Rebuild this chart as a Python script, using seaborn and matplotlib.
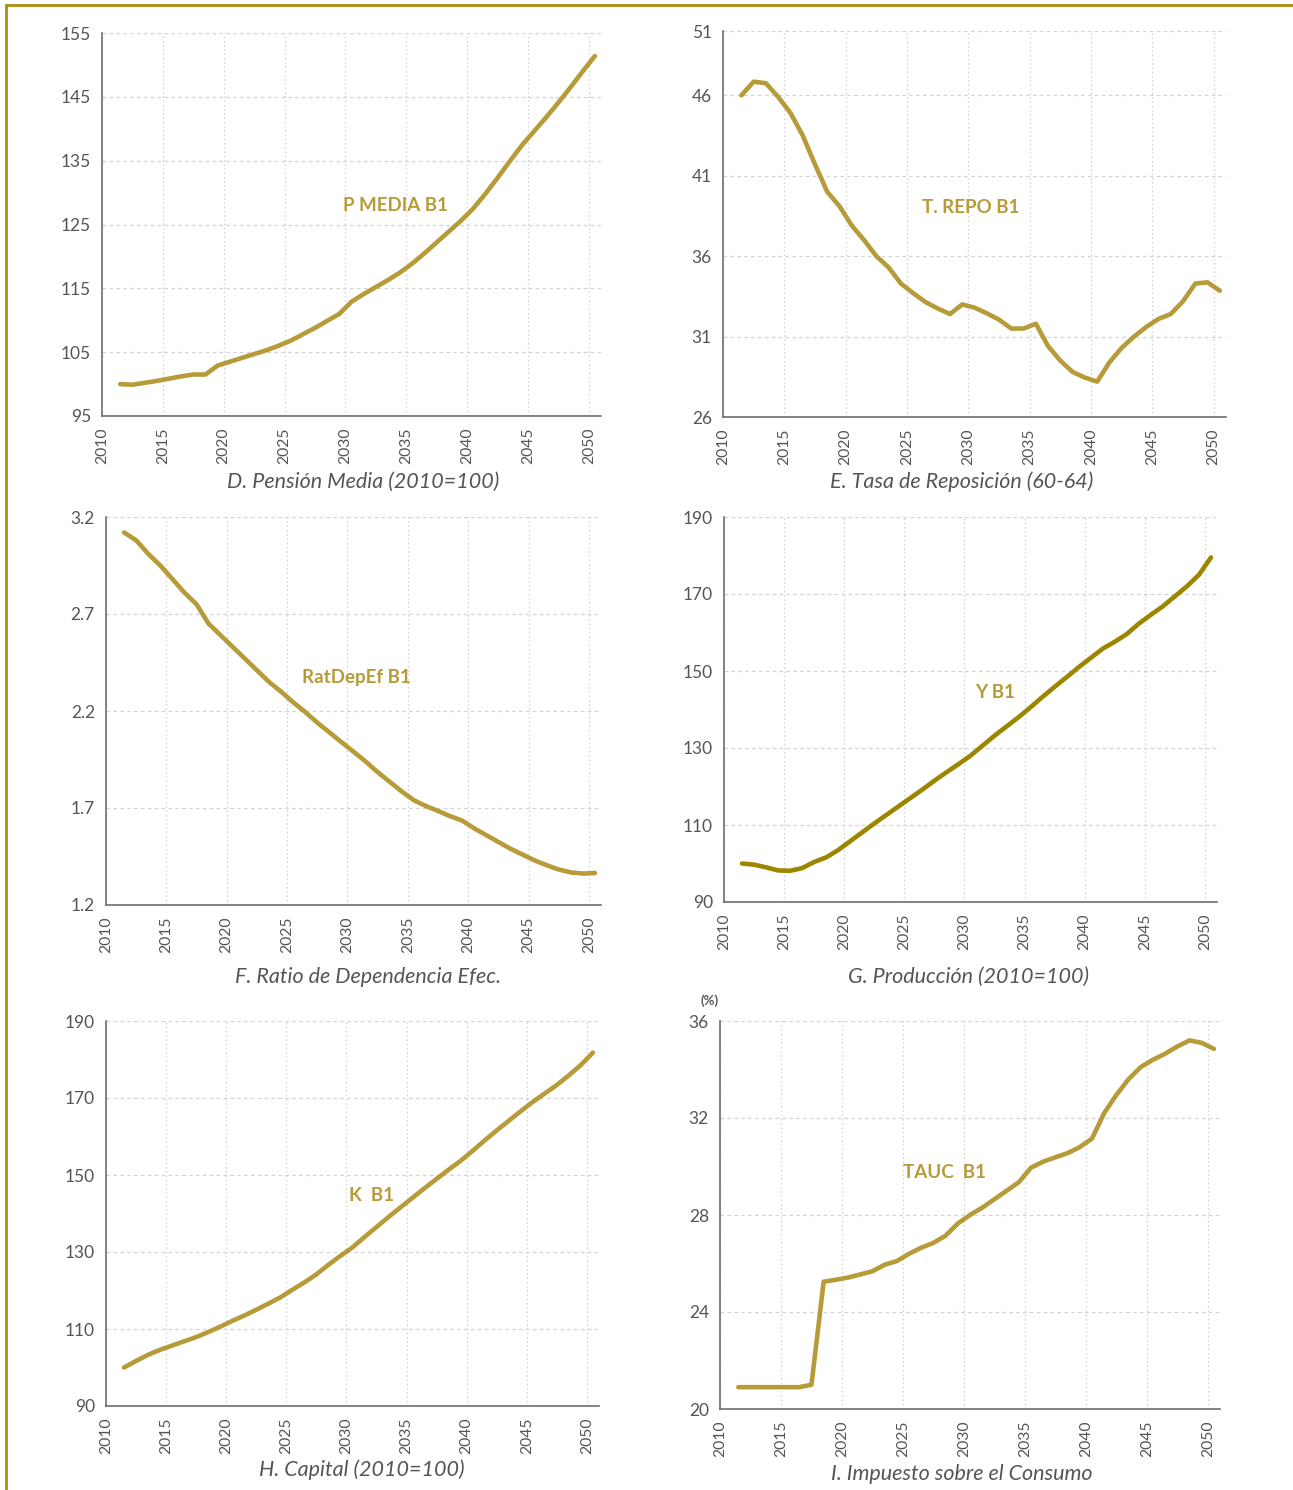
import matplotlib
matplotlib.use("Agg")
import matplotlib.pyplot as plt
import seaborn as sns
from matplotlib.lines import Line2D

# Datos anuales 2011-2050
anios = list(range(2011, 2051))

pension_media = [100.0, 99.9, 100.2, 100.5, 100.85, 101.2, 101.5, 101.5, 102.9, 103.5,
                 104.1, 104.7, 105.3, 106.0, 106.8, 107.8, 108.8, 109.9, 111.0, 112.9,
                 114.1, 115.2, 116.3, 117.5, 118.9, 120.5, 122.2, 123.9, 125.6, 127.5,
                 129.8, 132.3, 134.9, 137.4, 139.6, 141.8, 144.1, 146.5, 149.0, 151.4]

tasa_reposicion = [46.0, 46.85, 46.75, 45.9, 44.9, 43.5, 41.7, 40.0, 39.1, 37.9,
                   37.0, 36.0, 35.3, 34.3, 33.7, 33.15, 32.75, 32.4, 33.0, 32.8,
                   32.45, 32.05, 31.5, 31.5, 31.8, 30.4, 29.5, 28.8, 28.45, 28.2,
                   29.4, 30.3, 31.0, 31.6, 32.1, 32.4, 33.2, 34.3, 34.37, 33.85]

ratio_dependencia = [3.12, 3.08, 3.01, 2.95, 2.88, 2.81, 2.75, 2.65, 2.59, 2.53,
                     2.47, 2.41, 2.35, 2.30, 2.245, 2.195, 2.14, 2.09, 2.04, 1.99,
                     1.94, 1.885, 1.835, 1.785, 1.74, 1.71, 1.685, 1.658, 1.635, 1.595,
                     1.56, 1.525, 1.49, 1.46, 1.43, 1.405, 1.383, 1.368, 1.362, 1.365]

produccion = [100.0, 99.7, 99.0, 98.2, 98.1, 98.8, 100.4, 101.6, 103.5, 105.8,
              108.1, 110.4, 112.6, 114.8, 117.0, 119.2, 121.5, 123.7, 125.8, 128.0,
              130.6, 133.2, 135.6, 138.0, 140.6, 143.3, 145.9, 148.4, 151.0, 153.4,
              155.8, 157.6, 159.6, 162.3, 164.6, 166.8, 169.4, 172.0, 175.0, 179.5]

capital = [100.0, 101.7, 103.3, 104.6, 105.7, 106.8, 107.9, 109.2, 110.6, 112.1,
           113.5, 115.0, 116.6, 118.2, 120.2, 122.1, 124.2, 126.7, 129.0, 131.2,
           133.9, 136.5, 139.1, 141.6, 144.1, 146.6, 149.0, 151.4, 153.7, 156.3,
           159.0, 161.6, 164.1, 166.6, 169.0, 171.2, 173.4, 175.9, 178.6, 181.8]

impuesto_consumo = [20.9, 20.9, 20.9, 20.9, 20.9, 20.9, 21.0, 25.25, 25.33, 25.42,
                    25.55, 25.68, 25.95, 26.1, 26.4, 26.65, 26.85, 27.15, 27.65, 28.0,
                    28.3, 28.65, 29.0, 29.35, 29.95, 30.2, 30.38, 30.55, 30.8, 31.15,
                    32.2, 32.95, 33.6, 34.1, 34.4, 34.65, 34.95, 35.2, 35.1, 34.85]

xticks = [2010, 2015, 2020, 2025, 2030, 2035, 2040, 2045, 2050]

yticks_d = [95, 105, 115, 125, 135, 145, 155]
yticks_e = [26, 31, 36, 41, 46, 50]
ylabels_e = ["26", "31", "36", "41", "46", "51"]
yticks_f = [1.2, 1.7, 2.2, 2.7, 3.2]
yticks_g = [90, 110, 130, 150, 170, 190]
yticks_h = [90, 110, 130, 150, 170, 190]
yticks_i = [20, 24, 28, 32, 36]

ORO = "#b69b38"
OLIVA = "#9c8600"
GRIS = "#555555"
EJE = "#6e6e6e"

W, H = 1293, 1490

sns.set_style("white")
plt.rcParams['font.family'] = ['Lato', 'DejaVu Sans']

fig = plt.figure(figsize=(W / 100, H / 100), dpi=100)

# caja en píxeles: (izq, arriba, der, abajo)
paneles = [
    dict(datos=pension_media, caja=(102, 33, 601, 416), ylim=(95, 155), yt=yticks_d, yl=None,
         color=ORO, serie="P MEDIA B1", pos_serie=(2034.1, 127.9),
         titulo="D. Pensión Media (2010=100)", pos_titulo=(363, 482)),
    dict(datos=tasa_reposicion, caja=(723, 31, 1226, 417), ylim=(26, 50), yt=yticks_e, yl=ylabels_e,
         color=ORO, serie="T. REPO B1", pos_serie=(2030.2, 39.0),
         titulo="E. Tasa de Reposición (60-64)", pos_titulo=(962, 482)),
    dict(datos=ratio_dependencia, caja=(106, 517, 601, 905), ylim=(1.2, 3.2), yt=yticks_f, yl=None,
         color=ORO, serie="RatDepEf B1", pos_serie=(2030.7, 2.375),
         titulo="F. Ratio de Dependencia Efec.", pos_titulo=(368, 977)),
    dict(datos=produccion, caja=(724, 517, 1217, 902), ylim=(90, 190), yt=yticks_g, yl=None,
         color=OLIVA, serie="Y B1", pos_serie=(2032.5, 144.3),
         titulo="G. Producción (2010=100)", pos_titulo=(968, 977)),
    dict(datos=capital, caja=(106, 1021, 599, 1406), ylim=(90, 190), yt=yticks_h, yl=None,
         color=ORO, serie="K  B1", pos_serie=(2032.1, 144.8),
         titulo="H. Capital (2010=100)", pos_titulo=(362, 1470)),
    dict(datos=impuesto_consumo, caja=(720, 1021, 1220, 1409), ylim=(20, 36), yt=yticks_i, yl=None,
         color=ORO, serie="TAUC  B1", pos_serie=(2028.4, 29.75),
         titulo="I. Impuesto sobre el Consumo", pos_titulo=(962, 1474)),
]

for p in paneles:
    l, t, r, b = p["caja"]
    ax = fig.add_axes([l / W, 1 - b / H, (r - l) / W, (b - t) / H])
    sns.lineplot(x=[a + 0.5 for a in anios], y=p["datos"], ax=ax, color=p["color"],
                 linewidth=3.3, solid_capstyle="round", solid_joinstyle="round")
    ax.set_xlim(2010, 2051)
    ax.set_ylim(*p["ylim"])
    ax.set_xticks(xticks)
    ax.set_xticklabels([str(x) for x in xticks], rotation=90)
    ax.set_yticks(p["yt"])
    if p["yl"] is not None:
        ax.set_yticklabels(p["yl"])
    else:
        ax.set_yticklabels([f"{v:g}" for v in p["yt"]])
    ax.set_xlabel("")
    ax.set_ylabel("")
    ax.yaxis.grid(True, linestyle=(0, (3, 2.5)), color="#d4d4d4", linewidth=0.9)
    ax.xaxis.grid(True, linestyle=(0, (1.2, 2.2)), color="#d0d0d0", linewidth=0.9)
    ax.set_axisbelow(True)
    for lado in ["top", "right"]:
        ax.spines[lado].set_visible(False)
    for lado in ["left", "bottom"]:
        ax.spines[lado].set_color(EJE)
        ax.spines[lado].set_linewidth(1.2)
    ax.tick_params(axis="both", direction="out", length=5, width=1, color=EJE,
                   labelcolor=GRIS, labelsize=12.5, pad=3)
    ax.tick_params(axis="x", labelsize=11.3)
    ax.text(p["pos_serie"][0], p["pos_serie"][1], p["serie"], color=ORO,
            fontsize=13.5, fontweight="bold", ha="center", va="center")
    fig.text(p["pos_titulo"][0] / W, 1 - p["pos_titulo"][1] / H, p["titulo"],
             color=GRIS, fontsize=15.5, style="italic", ha="center", va="center")

fig.text(710 / W, 1 - 1001 / H, "(%)", color=GRIS, fontsize=9.5, fontweight="bold",
         ha="center", va="center")

# marco dorado superior e izquierdo
fig.add_artist(Line2D([6 / W, 1], [1 - 5.3 / H, 1 - 5.3 / H], transform=fig.transFigure,
                      color="#a8900f", linewidth=2))
fig.add_artist(Line2D([6 / W, 6 / W], [0, 1 - 5.3 / H], transform=fig.transFigure,
                      color="#a8900f", linewidth=2))

fig.savefig("out.png", dpi=100)
